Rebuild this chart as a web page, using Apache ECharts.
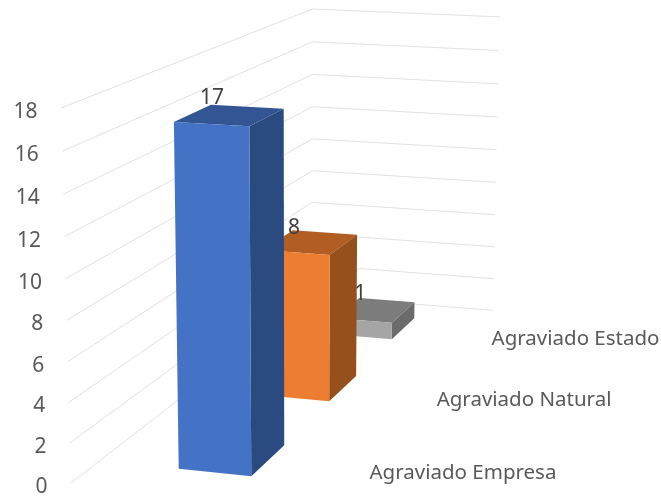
<!DOCTYPE html>
<html>
<head>
<meta charset="utf-8">
<style>
  html, body { margin: 0; padding: 0; background: #fff; }
  #chart { width: 661px; height: 496px; }
</style>
<script src="https://cdn.jsdelivr.net/npm/echarts@6/dist/echarts.min.js"></script>
</head>
<body>
<div id="chart"></div>
<script>
const categories = ['Agraviado Empresa', 'Agraviado Natural', 'Agraviado Estado']
const values = [17, 8, 1]
const yTicks = [0, 2, 4, 6, 8, 10, 12, 14, 16, 18]

const faceColors = [
  { front: '#4472C4', top: '#345594', side: '#2B4A80' },
  { front: '#ED7D31', top: '#B25D24', side: '#95501C' },
  { front: '#A5A5A5', top: '#7C7C7C', side: '#6B6B6B' }
]
const FONT = '"Noto Sans", sans-serif'

// no 3d in core echarts: perspective from (width, value, depth), all 0..1, to pixels
function project (x, y, z) {
  const w = -0.03 * x - 0.04239 * y + 0.32124 * z + 1
  return [
    (224.35 * x - 12.586 * y + 341.23 * z + 71) / w,
    (9.6 * x - 379.58 * y - 91.91 * z + 483) / w
  ]
}

// bar footprint in the floor
const barLeft = [0.354, 0.35, 0.35]
const barRight = [0.673, 0.665, 0.648]
const barDepth = 0.133
const barFront = [0.093, 0.435, 0.779]
const labelDepth = [0.157, 0.5, 0.845]
const labelLift = [-7, -2, -4]

// axis value -> 0..1 through the hidden grid
function unit (params, api, xv, yv) {
  const c = params.coordSys
  const p = api.coord([xv, yv])
  return [(p[0] - c.x) / c.width, (c.y + c.height - p[1]) / c.height]
}

function renderWall (params, api) {
  const tick = api.value(1)
  const a = unit(params, api, 0, tick)
  const b = unit(params, api, 1, tick)
  const start = project(a[0], a[1], 0)
  return {
    type: 'group',
    children: [
      {
        type: 'polyline',
        shape: { points: [start, project(a[0], a[1], 1), project(b[0], b[1], 1)] },
        style: { stroke: '#E2E2E2', lineWidth: 1, fill: null }
      },
      {
        type: 'text',
        style: {
          text: String(tick),
          x: start[0] - 23.5,
          y: start[1] + 4,
          align: 'right',
          verticalAlign: 'middle',
          fontSize: 21,
          fontFamily: FONT,
          fill: '#595959'
        }
      }
    ]
  }
}

function renderBar (params, api) {
  const i = params.dataIndex
  const l = unit(params, api, barLeft[i], 0)
  const r = unit(params, api, barRight[i], api.value(1))
  const x0 = l[0]
  const x1 = r[0]
  const y0 = l[1]
  const y1 = r[1]
  const z0 = barFront[i]
  const z1 = z0 + barDepth
  const color = faceColors[i]
  const order = (3 - i) * 10
  const backLeft = project(x0, y1, z1)
  return {
    type: 'group',
    children: [
      {
        type: 'polygon',
        z2: order,
        shape: { points: [project(x0, y1, z0), project(x1, y1, z0), project(x1, y1, z1), backLeft] },
        style: { fill: color.top }
      },
      {
        type: 'polygon',
        z2: order,
        shape: { points: [project(x1, y0, z0), project(x1, y1, z0), project(x1, y1, z1), project(x1, y0, z1)] },
        style: { fill: color.side }
      },
      {
        type: 'polygon',
        z2: order,
        shape: { points: [project(x0, y0, z0), project(x1, y0, z0), project(x1, y1, z0), project(x0, y1, z0)] },
        style: { fill: color.front }
      },
      {
        type: 'text',
        z2: 100,
        style: {
          text: String(api.value(1)),
          x: backLeft[0] + 1,
          y: backLeft[1] + labelLift[i],
          align: 'center',
          verticalAlign: 'middle',
          fontSize: 21,
          fontFamily: FONT,
          fill: '#404040'
        }
      }
    ]
  }
}

function renderCategory (params, api) {
  const i = params.dataIndex
  const p = unit(params, api, 1, 0)
  const z = labelDepth[i]
  const pos = project(p[0], p[1], z)
  return {
    type: 'text',
    style: {
      text: categories[i],
      x: pos[0] + 29 - 9 * z,
      y: pos[1] + 5,
      align: 'left',
      verticalAlign: 'middle',
      fontSize: 20.5,
      fontFamily: FONT,
      fill: '#595959'
    }
  }
}

const chart = echarts.init(document.getElementById('chart'))
chart.setOption({
  animation: false,
  backgroundColor: '#fff',
  grid: { left: 0, right: 0, top: 0, bottom: 0 },
  xAxis: { type: 'value', min: 0, max: 1, show: false },
  yAxis: { type: 'value', min: 0, max: 18, interval: 2, show: false },
  series: [
    {
      type: 'custom',
      clip: false,
      silent: true,
      z: 1,
      data: yTicks.map(t => [0, t]),
      renderItem: renderWall
    },
    {
      type: 'custom',
      clip: false,
      z: 2,
      data: values.map((v, i) => [i, v]),
      encode: { x: -1, y: 1 },
      renderItem: renderBar
    },
    {
      type: 'custom',
      clip: false,
      silent: true,
      z: 3,
      data: categories.map((c, i) => [i, 0]),
      encode: { x: -1, y: 1 },
      renderItem: renderCategory
    }
  ]
})
</script>
</body>
</html>
